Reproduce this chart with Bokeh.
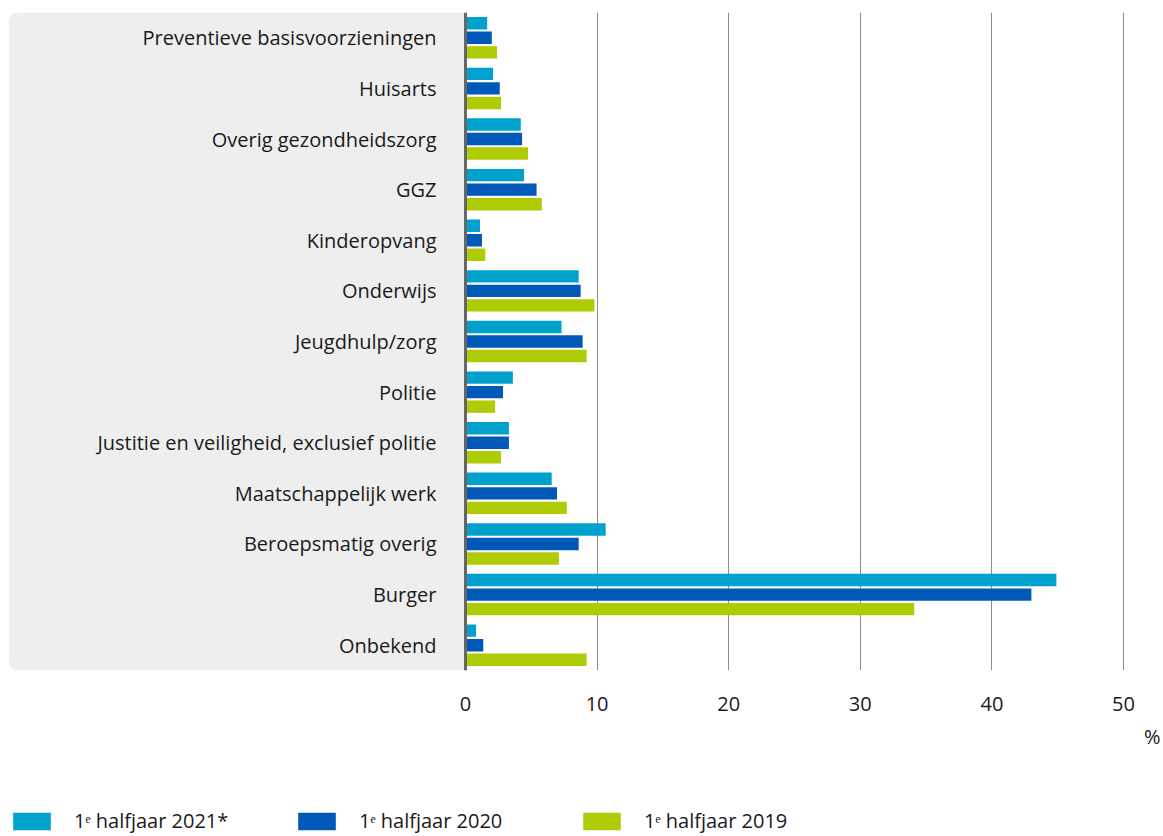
from bokeh.plotting import figure
from bokeh.layouts import column
from bokeh.models import (ColumnDataSource, FactorRange, Range1d, Span, BoxAnnotation,
                          Legend, LegendItem, Title, FixedTicker)
from bokeh.transform import dodge
from bokeh.core.properties import value
from bokeh.embed import file_html
from bokeh.resources import INLINE

# ---------------- data ----------------
categories = [
    "Preventieve basisvoorzieningen",
    "Huisarts",
    "Overig gezondheidszorg",
    "GGZ",
    "Kinderopvang",
    "Onderwijs",
    "Jeugdhulp/zorg",
    "Politie",
    "Justitie en veiligheid, exclusief politie",
    "Maatschappelijk werk",
    "Beroepsmatig overig",
    "Burger",
    "Onbekend",
]
v2021 = [1.65, 2.1, 4.2, 4.45, 1.1, 8.6, 7.3, 3.6, 3.3, 6.55, 10.65, 44.9, 0.8]
v2020 = [2.0, 2.6, 4.3, 5.4, 1.25, 8.75, 8.9, 2.85, 3.3, 6.95, 8.6, 43.0, 1.35]
v2019 = [2.4, 2.7, 4.75, 5.8, 1.5, 9.8, 9.2, 2.25, 2.7, 7.7, 7.1, 34.1, 9.2]
series_labels = ["1ᵉ halfjaar 2021*", "1ᵉ halfjaar 2020", "1ᵉ halfjaar 2019"]
x_ticks = [0, 10, 20, 30, 40, 50]
grid_ticks = [10, 20, 30, 40, 50]
unit_label = "%"

# ---------------- style ----------------
FONT = "Open Sans"
FS = "20px"
TEXT = "#1a1a1a"
COLORS = ["#00A1CD", "#0058B8", "#AFCB05"]
W = 1160
LEFT = 8
TOP, FRAME_H = 12, 658
H_MAIN = 760
H_LEG = 74
ZERO_PX, PX_PER_UNIT = 457, 13.16   # zero position inside the frame

source = ColumnDataSource(dict(cat=categories, v2021=v2021, v2020=v2020, v2019=v2019))
cols = ["v2021", "v2020", "v2019"]

frame_w = W - LEFT
x_start = -ZERO_PX / PX_PER_UNIT
x_end = (frame_w - ZERO_PX) / PX_PER_UNIT

p = figure(width=W, height=H_MAIN, output_backend="svg", toolbar_location=None,
           y_range=FactorRange(factors=categories[::-1], range_padding=0),
           x_range=Range1d(x_start, x_end),
           min_border_left=LEFT, min_border_right=0, min_border_top=TOP,
           min_border_bottom=H_MAIN - TOP - FRAME_H)
p.outline_line_color = None
p.background_fill_color = "white"
p.border_fill_color = "white"

# gray label panel
p.add_layout(BoxAnnotation(right=0, fill_color="#EEEEEE", fill_alpha=1.0,
                           line_color=None, border_radius=(10, 0, 0, 10),
                           level="underlay"))

offsets = [0.287, 0.0, -0.287]
for col, off, c in zip(cols, offsets, COLORS):
    p.hbar(y=dodge("cat", off, range=p.y_range), left=0, right=col, height=0.245,
           source=source, fill_color=c, line_color=None)

# category labels
p.text(x=0, y="cat", text="cat", source=source, x_offset=-29,
       text_align="right", text_baseline="middle", text_font=value(FONT),
       text_font_size=FS, text_color=TEXT)

# zero axis line
p.add_layout(Span(location=0, dimension="height", line_color="#666666", line_width=3))

# grid
p.ygrid.visible = False
p.xgrid.ticker = FixedTicker(ticks=grid_ticks)
p.xgrid.grid_line_color = "#8c8c8c"
p.xgrid.grid_line_width = 1

# axes
p.yaxis.visible = False
p.xaxis.ticker = FixedTicker(ticks=x_ticks)
p.xaxis.axis_line_color = None
p.xaxis.major_tick_line_color = None
p.xaxis.minor_tick_line_color = None
p.xaxis.major_label_standoff = 20
p.xaxis.major_label_text_font = FONT
p.xaxis.major_label_text_font_size = FS
p.xaxis.major_label_text_color = TEXT

p.add_layout(Title(text=unit_label, align="right", text_font=FONT, text_font_size=FS,
                   text_font_style="normal", text_color=TEXT, standoff=15), "below")

# ---------------- legend (separate strip) ----------------
leg = figure(width=W, height=H_LEG, output_backend="svg", toolbar_location=None,
             x_axis_type=None, y_axis_type=None, x_range=Range1d(0, 1), y_range=Range1d(0, 1),
             min_border_left=LEFT, min_border_right=0, min_border_top=0, min_border_bottom=0)
leg.outline_line_color = None
leg.grid.visible = False
# same series, placed outside this strip's visible range: only their legend swatches show
leg_renderers = [leg.hbar(y=-5, left=0, right=col, height=0.5, source=source,
                          fill_color=c, line_color=None) for col, c in zip(cols, COLORS)]
legend = Legend(items=[LegendItem(label=l, renderers=[r]) for l, r in zip(series_labels, leg_renderers)],
                location=(0, 0), orientation="horizontal", spacing=47,
                glyph_width=47, glyph_height=22, label_standoff=19, label_width=172,
                padding=0, margin=0,
                border_line_color=None, background_fill_alpha=0,
                label_text_font=FONT, label_text_font_size=FS, label_text_color=TEXT)
leg.add_layout(legend)

layout = column(p, leg, spacing=0)
open("out.html", "w").write(file_html(layout, INLINE))
